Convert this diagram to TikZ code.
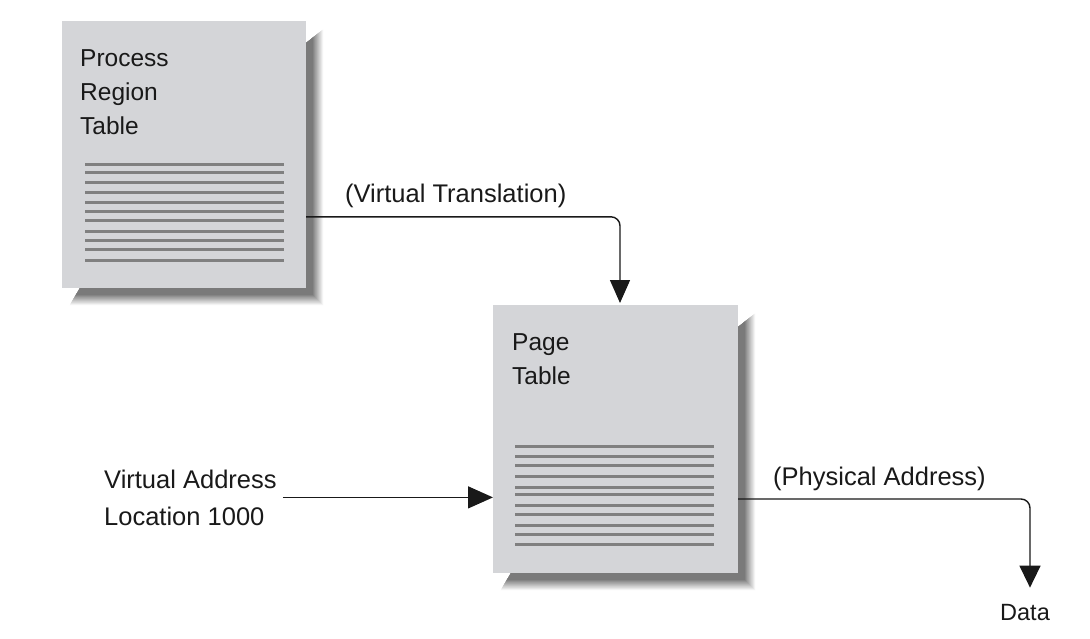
\documentclass[tikz,border=0pt]{standalone}
\usepackage{fontspec}
\setmainfont{Liberation Sans}
\usetikzlibrary{arrows.meta,calc}
\definecolor{facegray}{RGB}{212,213,216}
\definecolor{rulegray}{RGB}{128,128,128}
\definecolor{inkc}{RGB}{25,25,25}
\tikzset{
  face/.style={rectangle, fill=facegray, draw=none, inner sep=0pt, outer sep=0pt},
  title/.style={anchor=base west, align=left, inner sep=0pt, font=\fontsize{24.5}{34}\selectfont, text=inkc},
  lbl/.style={anchor=base west, inner sep=0pt, font=\fontsize{25.5}{37}\selectfont, text=inkc},
  conn/.style={line width=1.4pt, draw=inkc, rounded corners=9pt},
  rule/.style={line width=3pt, draw=rulegray},
}
\newcommand\dropshadow[4]{%
  \foreach \d in {18,17,...,7}{%
    \pgfmathtruncatemacro\pc{52*(18-\d)/11}%
    \fill[black!\pc] ({#3},{#2+22}) -- ({#3+\d},{#2+22-0.8*\d}) -- ({#3+\d},{#4+\d})
      -- ({#1+18-0.6*\d},{#4+\d}) -- ({#1+18},{#4}) -- cycle;
  }%
}
\begin{document}
\begin{tikzpicture}[x=1pt,y=-1pt]
\useasboundingbox (0,0) rectangle (1090,638);

% Process Region Table
\dropshadow{62}{21}{306}{288}
\node[face, minimum width=244pt, minimum height=267pt] (prt) at (184,154.5) {};
\node[title] (prtt) at ([shift={(18,113)}]prt.north west) {Process\\Region\\Table};
\foreach \o in {143,151.7,161.7,171,181.7,190.7,199.7,210,219,228.3,239}
  \draw[rule] ([xshift=23pt]prt.north west) ++(0,\o) -- ++(199,0);

% Page Table
\dropshadow{493}{305}{738}{573}
\node[face, minimum width=245pt, minimum height=268pt] (pt) at (615.5,439) {};
\node[title] (ptt) at ([shift={(19,79)}]pt.north west) {Page\\Table};
\foreach \o in {141,151.7,160.7,171.7,182.3,189,200,209,220,229,239.7}
  \draw[rule] ([xshift=22pt]pt.north west) ++(0,\o) -- ++(199,0);

% labels
\node[lbl] (vtl) at (345,202) {(Virtual Translation)};
\node[lbl, align=left] (va) at (104,525) {Virtual Address\\Location 1000};
\node[lbl] (pal) at (773,485) {(Physical Address)};
\node[lbl, anchor=base, font=\fontsize{23.5}{30}\selectfont] (data) at (1025,620) {Data};

% connectors
\draw[conn, -{Triangle[length=23pt,width=20pt]}]
  ([yshift=-62.3pt]prt.east) -| ([xshift=4.5pt,yshift=2pt]pt.north);
\draw[conn, -{Triangle[length=25pt,width=22pt]}]
  ([xshift=6pt]va.east) -- (pt.west |- va.east);
\draw[conn, -{Triangle[length=22pt,width=21pt]}]
  ([yshift=-60pt]pt.east) -| ([xshift=5pt,yshift=16pt]data.north);
\end{tikzpicture}
\end{document}
